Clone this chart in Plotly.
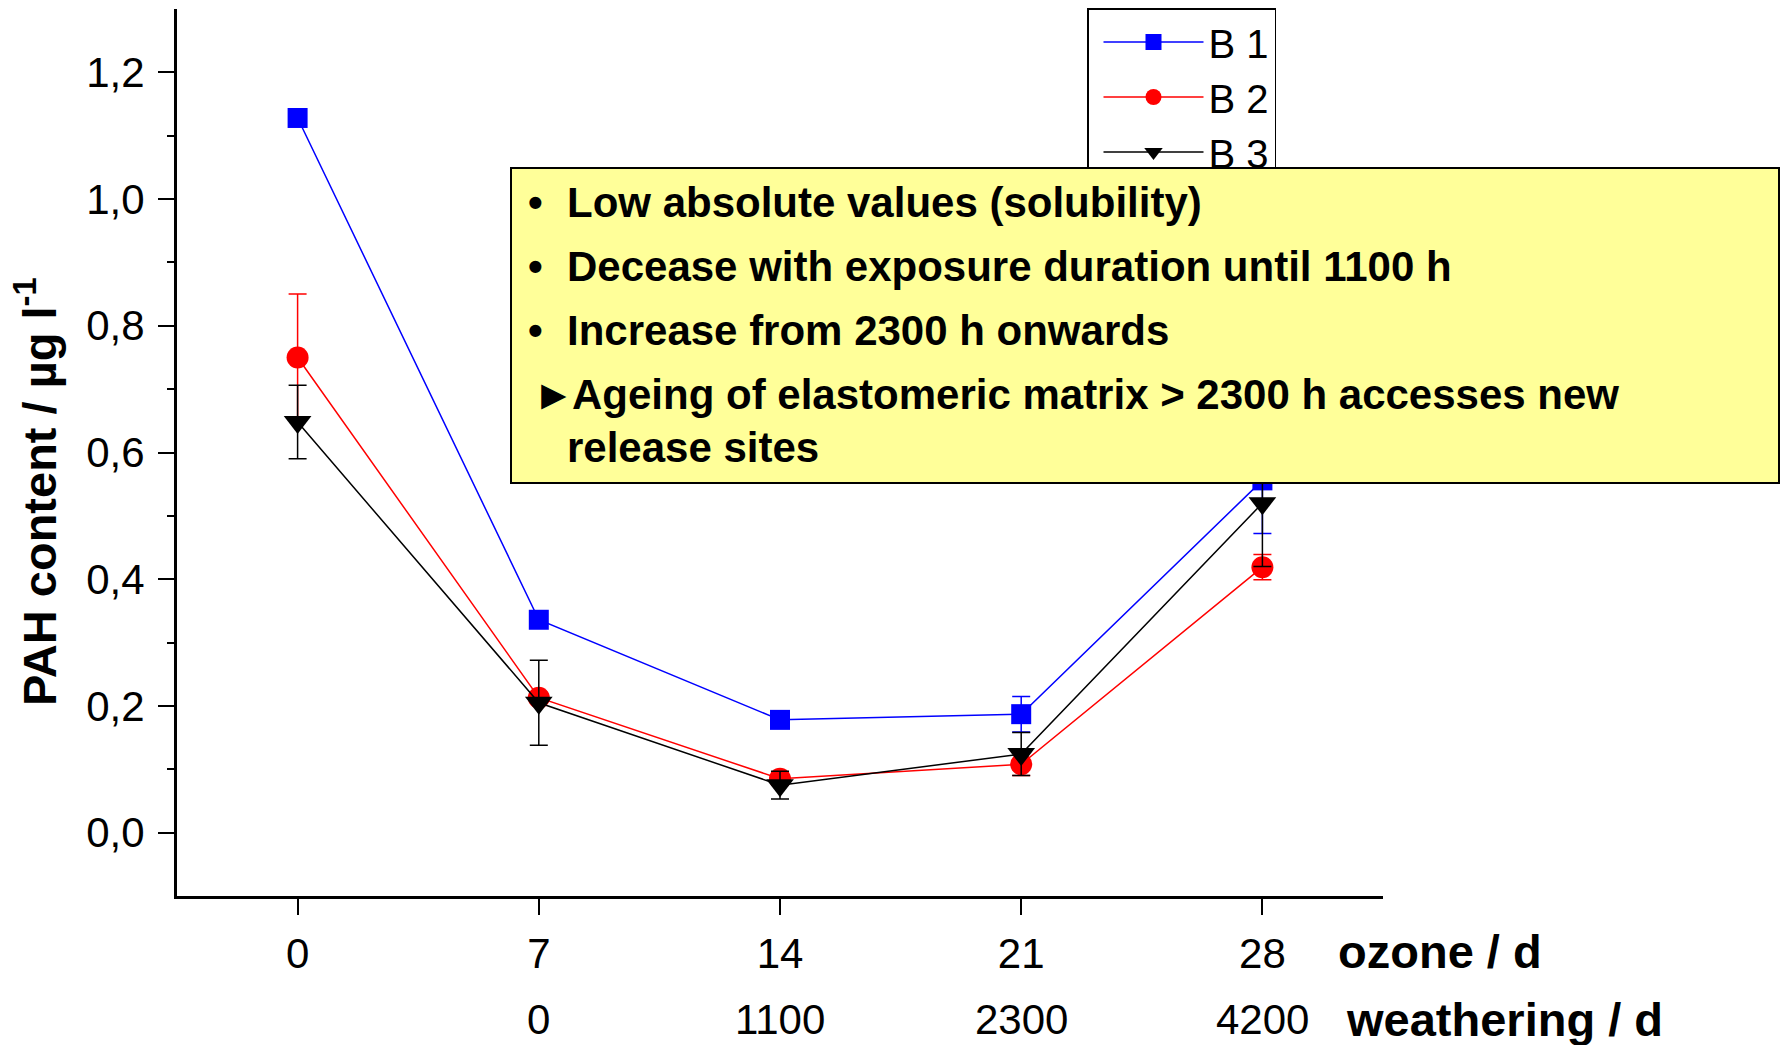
import plotly.graph_objects as go

# ---- data ----
ozone_days = [0, 7, 14, 21, 28]
weathering_labels = ["", "0", "1100", "2300", "4200"]

b1_values = [1.128, 0.336, 0.178, 0.187, 0.556]
b1_errors = [0.0, 0.0, 0.0, 0.028, 0.084]

b2_values = [0.750, 0.213, 0.085, 0.108, 0.419]
b2_errors = [0.100, 0.008, 0.010, 0.018, 0.020]

b3_values = [0.648, 0.205, 0.075, 0.124, 0.520]
b3_errors = [0.058, 0.067, 0.022, 0.034, 0.100]

y_tickvals = [0.0, 0.2, 0.4, 0.6, 0.8, 1.0, 1.2]
y_ticktext = ["0,0", "0,2", "0,4", "0,6", "0,8", "1,0", "1,2"]

box_lines = [
    ("•", "Low absolute values (solubility)"),
    ("•", "Decease with exposure duration until 1100 h"),
    ("•", "Increase from 2300 h onwards"),
    ("►", "Ageing of elastomeric matrix > 2300 h accesses new"),
    ("", "release sites"),
]

FONT = "Liberation Sans, Arial, sans-serif"

series = [
    ("B 1", b1_values, b1_errors, "#0000FF", "square", 20),
    ("B 2", b2_values, b2_errors, "#FF0000", "circle", 22),
    ("B 3", b3_values, b3_errors, "#000000", "triangle-down", 24),
]

fig = go.Figure()
for name, vals, errs, col, sym, sz in series:
    fig.add_trace(go.Scatter(
        x=ozone_days, y=vals, name=name, mode="lines+markers",
        line=dict(color=col, width=1.5),
        marker=dict(color=col, symbol=sym, size=sz),
        error_y=dict(type="data", array=errs, visible=True, color=col,
                     thickness=1.5, width=9),
    ))

# page is offset by the 8px default body margin; compensate
OFF = 8
W, H = 1789, 1045
L, R, T, B = 177 - OFF, 406 + OFF, 9 - OFF, 149 + OFF
pw, ph = W - L - R, H - T - B


def px(xs):
    """screen x (px) -> paper x"""
    return (xs - OFF - L) / pw


def py(ys):
    """screen y (px) -> paper y"""
    return (H - B - (ys - OFF)) / ph


annotations = []

# y-axis title
annotations.append(dict(
    text="<b>PAH content / µg l<sup>-1</sup></b>", xref="paper", yref="paper",
    x=px(36), y=py(492), textangle=-90, showarrow=False,
    font=dict(family=FONT, size=47, color="black"),
    xanchor="center", yanchor="middle"))

# x-axis row names
annotations.append(dict(
    text="<b>ozone / d</b>", xref="paper", yref="paper",
    x=px(1336), y=py(951), showarrow=False, xanchor="left", yanchor="middle",
    font=dict(family=FONT, size=47, color="black")))
annotations.append(dict(
    text="<b>weathering / d</b>", xref="paper", yref="paper",
    x=px(1344), y=py(1019), showarrow=False, xanchor="left", yanchor="middle",
    font=dict(family=FONT, size=47, color="black")))

# second row of x labels (weathering)
for xv, lab in zip(ozone_days, weathering_labels):
    if lab:
        annotations.append(dict(
            text=lab, xref="x", yref="paper", x=xv, y=py(1019),
            showarrow=False, xanchor="center", yanchor="middle",
            font=dict(family=FONT, size=42, color="black")))

# yellow text box (drawn as annotation so it sits above the legend)
bx0, bx1, by0, by1 = 510, 1780, 167, 484
annotations.append(dict(
    text=" ", xref="paper", yref="paper", x=px(bx0), y=py(by0),
    xanchor="left", yanchor="top", showarrow=False,
    width=bx1 - bx0 - 4, height=by1 - by0 - 4,
    bgcolor="#FFFF99", bordercolor="black", borderwidth=2, borderpad=0))

line_y = [203, 267, 331, 395, 447]
for (mark, txt), yy in zip(box_lines, line_y):
    if mark:
        annotations.append(dict(
            text=f"<b>{mark}</b>", xref="paper", yref="paper",
            x=px(526 if mark == "•" else 531), y=py(yy), xanchor="left",
            yanchor="middle", showarrow=False,
            font=dict(family=FONT, size=42, color="black")))
    annotations.append(dict(
        text=f"<b>{txt}</b>", xref="paper", yref="paper",
        x=px(565 if mark != "►" else 570), y=py(yy), xanchor="left",
        yanchor="middle", showarrow=False,
        font=dict(family=FONT, size=42, color="black")))

fig.update_layout(
    width=W, height=H,
    margin=dict(l=L, r=R, t=T, b=B, pad=0, autoexpand=False),
    paper_bgcolor="white", plot_bgcolor="white",
    font=dict(family=FONT, size=42, color="black"),
    showlegend=True,
    legend=dict(
        x=px(1087), y=py(8), xanchor="left", yanchor="top",
        bgcolor="white", bordercolor="black", borderwidth=1.5,
        font=dict(family=FONT, size=40, color="black"),
        itemwidth=100, tracegroupgap=0, indentation=10,
    ),
    xaxis=dict(
        range=[-3.5, 31.5], tickvals=ozone_days,
        ticktext=[str(v) for v in ozone_days],
        ticks="outside", ticklen=16, tickwidth=2, tickcolor="black",
        showline=True, linewidth=3, linecolor="black",
        showgrid=False, zeroline=False, ticklabelstandoff=3,
        tickfont=dict(family=FONT, size=42, color="black"),
    ),
    yaxis=dict(
        range=[-0.1, 1.3], tickvals=y_tickvals, ticktext=y_ticktext,
        ticks="outside", ticklen=16, tickwidth=2, tickcolor="black",
        minor=dict(tickvals=[0.1, 0.3, 0.5, 0.7, 0.9, 1.1], ticklen=7,
                   tickwidth=2, tickcolor="black", ticks="outside"),
        showline=True, linewidth=3, linecolor="black",
        showgrid=False, zeroline=False, ticklabelstandoff=5,
        tickfont=dict(family=FONT, size=42, color="black"),
    ),
    annotations=annotations,
)

fig.write_html("out.html")
